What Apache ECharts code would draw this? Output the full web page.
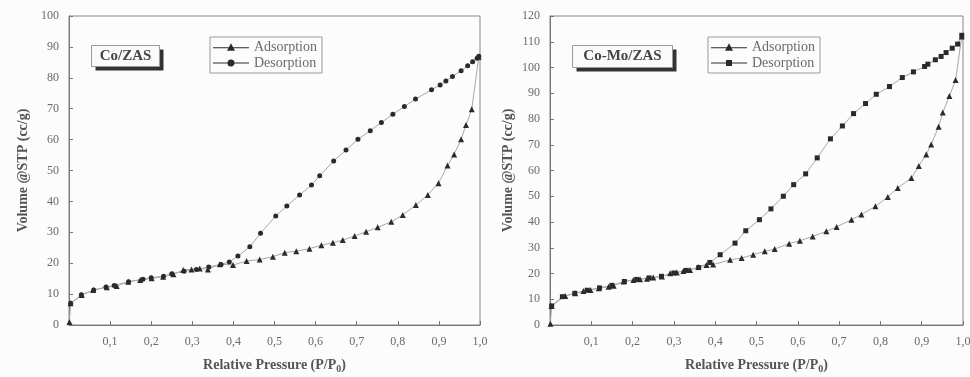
<!DOCTYPE html>
<html>
<head>
<meta charset="utf-8">
<script src="https://cdn.jsdelivr.net/npm/echarts@6/dist/echarts.min.js"></script>
<style>
    html, body { margin: 0; padding: 0; background: #fbfcfb; }
    #chart { width: 970px; height: 377px; }
</style>
</head>
<body>
<div id="chart"></div>
<script>
// Co/ZAS isotherm
var coAdsP = [0.001, 0.004, 0.031, 0.059, 0.092, 0.116, 0.144, 0.173, 0.201, 0.229, 0.254, 0.278, 0.298, 0.318, 0.338, 0.367, 0.399, 0.432, 0.464, 0.496, 0.525, 0.553, 0.585, 0.614, 0.642, 0.666, 0.695, 0.723, 0.751, 0.784, 0.812, 0.844, 0.873, 0.899, 0.921, 0.937, 0.954, 0.966, 0.980, 0.997];
var coAdsV = [1.0, 7.0, 9.7, 11.3, 12.2, 12.6, 14.0, 14.6, 15.1, 15.6, 16.4, 17.8, 18.0, 18.3, 18.0, 19.7, 19.4, 20.7, 21.2, 22.1, 23.4, 23.9, 24.7, 25.8, 26.6, 27.5, 28.8, 30.2, 31.6, 33.4, 35.6, 38.8, 42.1, 45.9, 51.6, 55.2, 60.1, 64.7, 69.8, 86.8];
var coDesP = [0.997, 0.993, 0.982, 0.970, 0.954, 0.933, 0.917, 0.903, 0.882, 0.843, 0.816, 0.788, 0.760, 0.733, 0.703, 0.674, 0.644, 0.610, 0.590, 0.561, 0.530, 0.503, 0.466, 0.440, 0.411, 0.390, 0.370, 0.340, 0.310, 0.280, 0.250, 0.230, 0.200, 0.180, 0.145, 0.110, 0.090, 0.060, 0.030, 0.004];
var coDesV = [87.0, 86.3, 85.2, 83.9, 82.3, 80.4, 79.0, 77.7, 76.1, 73.1, 70.7, 68.2, 65.5, 62.9, 60.1, 56.6, 53.1, 48.3, 45.3, 42.1, 38.5, 35.3, 29.7, 25.3, 22.3, 20.4, 19.6, 18.8, 18.0, 17.4, 16.6, 15.8, 15.3, 14.8, 14.0, 12.8, 12.3, 11.3, 9.8, 7.0];

// Co-Mo/ZAS isotherm
var comoAdsP = [0.001, 0.004, 0.037, 0.061, 0.081, 0.098, 0.118, 0.142, 0.154, 0.178, 0.202, 0.218, 0.235, 0.250, 0.271, 0.291, 0.307, 0.323, 0.339, 0.359, 0.379, 0.395, 0.436, 0.464, 0.492, 0.520, 0.544, 0.579, 0.605, 0.636, 0.669, 0.694, 0.730, 0.754, 0.788, 0.818, 0.842, 0.875, 0.893, 0.911, 0.923, 0.941, 0.951, 0.967, 0.982, 0.997];
var comoAdsV = [0.5, 7.4, 11.3, 12.3, 13.2, 13.6, 14.3, 14.9, 15.2, 16.9, 17.5, 17.8, 18.0, 18.4, 18.8, 20.1, 20.4, 21.0, 21.4, 22.5, 23.3, 23.5, 25.3, 26.0, 27.3, 28.6, 29.5, 31.6, 32.7, 34.4, 36.4, 38.1, 40.9, 42.9, 46.1, 49.7, 53.2, 57.1, 61.7, 66.2, 70.1, 77.0, 82.5, 88.9, 95.1, 112.0];
var comoDesP = [0.997, 0.987, 0.974, 0.959, 0.947, 0.933, 0.915, 0.907, 0.880, 0.853, 0.822, 0.790, 0.764, 0.735, 0.708, 0.679, 0.647, 0.619, 0.590, 0.565, 0.535, 0.507, 0.474, 0.448, 0.412, 0.387, 0.360, 0.330, 0.300, 0.270, 0.240, 0.210, 0.180, 0.150, 0.120, 0.090, 0.060, 0.030, 0.004];
var comoDesV = [112.5, 109.1, 107.5, 105.8, 104.3, 103.0, 101.3, 100.4, 98.3, 96.1, 92.6, 89.6, 86.0, 82.1, 77.3, 72.3, 64.9, 58.7, 54.5, 50.0, 45.1, 40.9, 36.6, 31.8, 27.3, 24.3, 22.3, 21.2, 20.2, 18.9, 18.3, 17.7, 16.9, 15.4, 14.4, 13.5, 12.3, 11.0, 7.4];

var seriesNames = ['Adsorption', 'Desorption'];
var sampleNames = ['Co/ZAS', 'Co-Mo/ZAS'];
var yMax = [100, 120];

function zip(xs, ys) {
    var out = [];
    for (var i = 0; i < Math.min(xs.length, ys.length); i++) {
        out.push([xs[i], ys[i]]);
    }
    return out;
}

var serif = '"Liberation Serif", "DejaVu Serif", serif';
var markColor = '#2a2a2a';
var lineColor = '#a8a8a8';
var textColor = '#6a6a6a';

// legend icons: thin line with a marker on it
var iconTri = 'path://M0,7.5h36v1h-36z M18,3.5 L22,11 L14,11 Z';
var iconDot = 'path://M0,7.5h36v1h-36z M18,4.5 A3.5,3.5 0 1,1 17.99,4.5 Z';
var iconSq = 'path://M0,7.5h36v1h-36z M15,5h6v6h-6z';

function xAxisOf(gi) {
    return {
        type: 'value', gridIndex: gi, min: 0, max: 1, interval: 0.1,
        name: 'Relative Pressure (P/P{sub|0})',
        nameLocation: 'middle', nameGap: 31,
        nameTextStyle: {
            fontFamily: serif, fontWeight: 'bold', fontSize: 14, color: '#555',
            rich: { sub: { fontFamily: serif, fontWeight: 'bold', fontSize: 10, color: '#555', padding: [8, 0, 0, 0] } }
        },
        axisLine: { show: true, lineStyle: { color: '#777' } },
        axisTick: { inside: true, length: 4, lineStyle: { color: '#777' } },
        axisLabel: {
            fontFamily: serif, fontSize: 12, color: textColor, margin: 11,
            formatter: function (v) { return v === 0 ? '' : v.toFixed(1).replace('.', ','); }
        },
        splitLine: { show: false }
    };
}

function yAxisOf(gi, max, gap) {
    return {
        type: 'value', gridIndex: gi, min: 0, max: max, interval: 10,
        name: 'Volume @STP (cc/g)',
        nameLocation: 'middle', nameGap: gap,
        nameTextStyle: { fontFamily: serif, fontWeight: 'bold', fontSize: 14, color: '#555' },
        axisLine: { show: true, lineStyle: { color: '#777' } },
        axisTick: { inside: true, length: 4, lineStyle: { color: '#777' } },
        axisLabel: { fontFamily: serif, fontSize: 12, color: textColor, margin: 10 },
        splitLine: { show: false }
    };
}

function lineSeries(name, gi, data, symbol) {
    return {
        name: name, type: 'line', xAxisIndex: gi, yAxisIndex: gi,
        data: data, symbol: symbol, symbolSize: symbol === 'triangle' ? 6 : 5,
        itemStyle: { color: markColor },
        lineStyle: { color: lineColor, width: 1 },
        animation: false
    };
}

function legendOf(left, descIcon) {
    return {
        orient: 'vertical', left: left, top: 37,
        padding: [3, 5, 3, 3], itemGap: 2,
        itemWidth: 36, itemHeight: 15,
        borderColor: '#999', borderWidth: 1,
        textStyle: { fontFamily: serif, fontSize: 14, color: textColor },
        data: [
            { name: seriesNames[0], icon: iconTri },
            { name: seriesNames[1], icon: descIcon }
        ],
        selectedMode: false
    };
}

function sampleLabel(x, y, w, h, text) {
    return {
        type: 'group', left: x, top: y,
        children: [
            { type: 'rect', shape: { x: 4, y: 4, width: w, height: h }, style: { fill: '#333' } },
            { type: 'rect', shape: { x: 0, y: 0, width: w, height: h }, style: { fill: '#fafafa', stroke: '#999', lineWidth: 1 } },
            { type: 'text', x: w / 2, y: h / 2, style: { text: text, fill: '#444', font: 'bold 15px ' + serif, align: 'center', verticalAlign: 'middle' } }
        ]
    };
}

var chart = echarts.init(document.getElementById('chart'));

var option = {
    backgroundColor: '#fbfcfb',
    grid: [
        { left: 69, top: 16, width: 411, height: 309, outerBoundsMode: 'none', show: true, borderColor: '#888', borderWidth: 1, backgroundColor: 'transparent' },
        { left: 550, top: 16, width: 413, height: 309, outerBoundsMode: 'none', show: true, borderColor: '#888', borderWidth: 1, backgroundColor: 'transparent' }
    ],
    xAxis: [xAxisOf(0), xAxisOf(1)],
    yAxis: [yAxisOf(0, yMax[0], 39), yAxisOf(1, yMax[1], 35)],
    legend: [legendOf(210, iconDot), legendOf(708, iconSq)],
    graphic: [
        sampleLabel(91, 45, 68, 21, sampleNames[0]),
        sampleLabel(572, 45, 100, 22, sampleNames[1])
    ],
    series: [
        lineSeries(seriesNames[0], 0, zip(coAdsP, coAdsV), 'triangle'),
        lineSeries(seriesNames[1], 0, zip(coDesP, coDesV), 'circle'),
        lineSeries(seriesNames[0], 1, zip(comoAdsP, comoAdsV), 'triangle'),
        lineSeries(seriesNames[1], 1, zip(comoDesP, comoDesV), 'rect')
    ]
};

chart.setOption(option);
</script>
</body>
</html>
